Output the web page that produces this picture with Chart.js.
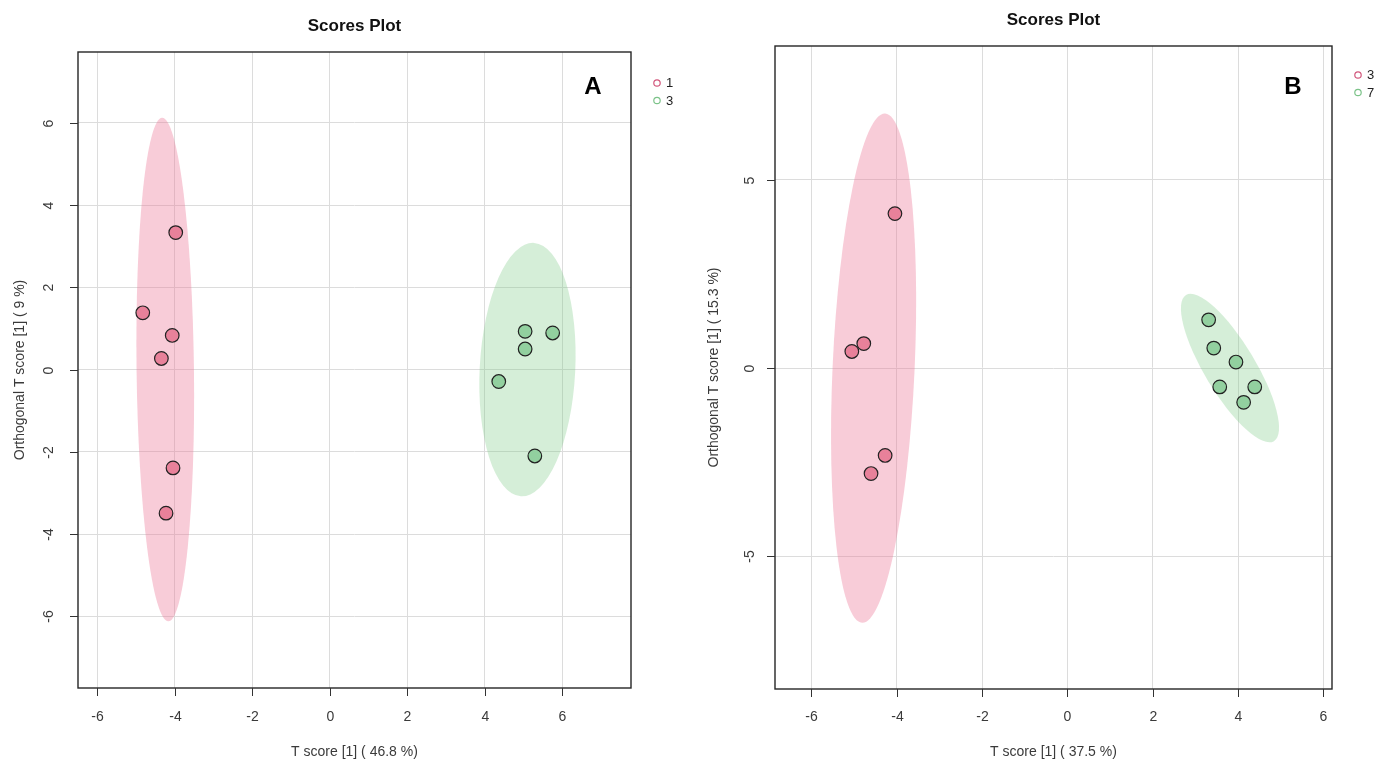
<!DOCTYPE html>
<html>
<head>
<meta charset="utf-8">
<title>Scores Plot</title>
<script src="https://cdn.jsdelivr.net/npm/chart.js@4.4.1/dist/chart.umd.min.js"></script>
<style>
  html, body { margin: 0; padding: 0; background: #fff; }
  #wrap { position: relative; width: 1381px; height: 760px; overflow: hidden; }
  canvas { position: absolute; top: 0; }
  #chartA { left: 0; }
  #chartB { left: 690px; }
</style>
</head>
<body>
<div id="wrap">
  <canvas id="chartA" width="690" height="760"></canvas>
  <canvas id="chartB" width="691" height="760"></canvas>
</div>
<script>
"use strict";
// tick values
const xTicksA = [-6, -4, -2, 0, 2, 4, 6];
const yTicksA = [-6, -4, -2, 0, 2, 4, 6];
const xTicksB = [-6, -4, -2, 0, 2, 4, 6];
const yTicksB = [-5, 0, 5];

// axis titles
const xTitleA = "T score [1] ( 46.8 %)";
const yTitleA = "Orthogonal T score [1] ( 9 %)";
const xTitleB = "T score [1] ( 37.5 %)";
const yTitleB = "Orthogonal T score [1] ( 15.3 %)";

// panel A, groups "1" and "3"
const groupsA = ["1", "3"];
const a1X = [-3.97, -4.82, -4.06, -4.34, -4.04, -4.22];
const a1Y = [3.33, 1.38, 0.83, 0.27, -2.39, -3.49];
const a3X = [5.04, 5.75, 5.04, 4.36, 5.29];
const a3Y = [0.93, 0.89, 0.50, -0.29, -2.10];

// panel B, groups "3" and "7"
const groupsB = ["3", "7"];
const b3X = [-4.04, -5.05, -4.77, -4.27, -4.60];
const b3Y = [4.10, 0.44, 0.65, -2.32, -2.80];
const b7X = [3.31, 3.43, 3.95, 3.57, 4.39, 4.13];
const b7Y = [1.28, 0.53, 0.16, -0.50, -0.50, -0.91];

// confidence ellipses: centre x, centre y, major half-axis (dx, dy), minor half-axis (dx, dy)
const ellipseA1 = [-4.24, 0, -0.08, 6.12, 0.74, 0.01];
const ellipseA3 = [5.10, 0, 0.17, 3.08, 1.23, -0.07];
const ellipseB3 = [-4.54, 0, 0.27, 6.76, 0.96, -0.05];
const ellipseB7 = [3.81, 0, -1.03, 1.94, 0.51, 0.35];

const RED = { point: "#e8819a", ring: "#d2577c", fill: "rgba(236,120,152,0.38)" };
const GREEN = { point: "#92d09f", ring: "#7cc389", fill: "rgba(120,200,130,0.31)" };
const FONT = "'Liberation Sans', Arial, sans-serif";

function toPoints(xs, ys) {
    return xs.map((x, i) => ({ x: x, y: ys[i] }));
}

function scoresPlugin(p) {
    return {
        id: "scores_" + p.letter,
        beforeDatasetsDraw(chart) {
            const ctx = chart.ctx;
            const xs = chart.scales.x, ys = chart.scales.y;
            const area = chart.chartArea;
            ctx.save();
            ctx.beginPath();
            ctx.rect(area.left, area.top, area.right - area.left, area.bottom - area.top);
            ctx.clip();
            p.ellipses.forEach((e, i) => {
                const cx = xs.getPixelForValue(e[0]);
                const cy = ys.getPixelForValue(e[1]);
                const ax = xs.getPixelForValue(e[0] + e[2]) - cx;
                const ay = ys.getPixelForValue(e[1] + e[3]) - cy;
                const bx = xs.getPixelForValue(e[0] + e[4]) - cx;
                const by = ys.getPixelForValue(e[1] + e[5]) - cy;
                ctx.save();
                ctx.transform(bx, by, ax, ay, cx, cy);
                ctx.beginPath();
                ctx.arc(0, 0, 1, 0, Math.PI * 2);
                ctx.restore();
                ctx.fillStyle = p.colors[i].fill;
                ctx.fill();
            });
            ctx.restore();
        },
        afterDraw(chart) {
            const ctx = chart.ctx;
            const xs = chart.scales.x, ys = chart.scales.y;
            const a = chart.chartArea;
            const L = p.layout;
            ctx.save();
            // box
            ctx.strokeStyle = "#262626";
            ctx.lineWidth = 1.4;
            ctx.strokeRect(a.left, a.top, a.right - a.left, a.bottom - a.top);
            // tick marks + labels
            ctx.lineWidth = 1;
            ctx.strokeStyle = "#333";
            ctx.fillStyle = "#3a3a3a";
            ctx.font = "14px " + FONT;
            ctx.textAlign = "center";
            ctx.textBaseline = "middle";
            p.xTicks.forEach(v => {
                const x = Math.round(xs.getPixelForValue(v)) + 0.5;
                ctx.beginPath();
                ctx.moveTo(x, a.bottom);
                ctx.lineTo(x, a.bottom + 8);
                ctx.stroke();
                ctx.fillText(String(v), x, a.bottom + L.xLabelOff);
            });
            p.yTicks.forEach(v => {
                const y = Math.round(ys.getPixelForValue(v)) + 0.5;
                ctx.beginPath();
                ctx.moveTo(a.left - 8, y);
                ctx.lineTo(a.left, y);
                ctx.stroke();
                ctx.save();
                ctx.translate(a.left - L.yLabelOff, y);
                ctx.rotate(-Math.PI / 2);
                ctx.fillText(String(v), 0, 0);
                ctx.restore();
            });
            // axis titles
            const midX = (a.left + a.right) / 2;
            const midY = (a.top + a.bottom) / 2;
            ctx.fillText(p.xTitle, midX, 752);
            ctx.save();
            ctx.translate(a.left - L.yTitleOff, midY);
            ctx.rotate(-Math.PI / 2);
            ctx.fillText(p.yTitle, 0, 0);
            ctx.restore();
            // main title
            ctx.fillStyle = "#111";
            ctx.font = "bold 17px " + FONT;
            ctx.fillText("Scores Plot", midX, L.titleY);
            // panel letter
            ctx.fillStyle = "#000";
            ctx.font = "bold 24px " + FONT;
            ctx.fillText(p.letter, L.letterX, 87);
            // legend
            ctx.font = "13px " + FONT;
            ctx.textAlign = "left";
            p.groups.forEach((g, i) => {
                const y = L.legendY + i * 17.5;
                ctx.beginPath();
                ctx.arc(L.legendX, y, 3.2, 0, Math.PI * 2);
                ctx.strokeStyle = p.colors[i].ring;
                ctx.lineWidth = 1.2;
                ctx.stroke();
                ctx.fillStyle = "#222";
                ctx.fillText(g, L.legendX + 9, y + 0.5);
            });
            ctx.restore();
        }
    };
}

function buildPanel(canvasId, p) {
    const canvas = document.getElementById(canvasId);
    const datasets = p.series.map((s, i) => ({
        label: p.groups[i],
        data: s,
        backgroundColor: p.colors[i].point,
        borderColor: "#222",
        borderWidth: 1.2,
        pointRadius: 6.8,
        pointHoverRadius: 6.8
    }));
    const axis = (min, max, ticks, horizontal) => ({
        type: "linear",
        min: min,
        max: max,
        afterBuildTicks: s => { s.ticks = ticks.map(v => ({ value: v })); },
        afterFit: s => { if (horizontal) s.height = 0; else s.width = 0; },
        ticks: { display: false },
        grid: { color: "#dcdcdc", lineWidth: 1, drawTicks: false },
        border: { display: false }
    });
    return new Chart(canvas.getContext("2d"), {
        type: "scatter",
        data: { datasets },
        options: {
            responsive: false,
            animation: false,
            layout: { padding: p.layout.padding },
            scales: {
                x: axis(p.xRange[0], p.xRange[1], p.xTicks, true),
                y: axis(p.yRange[0], p.yRange[1], p.yTicks, false)
            },
            plugins: {
                legend: { display: false },
                tooltip: { enabled: false },
                title: { display: false }
            }
        },
        plugins: [scoresPlugin(p)]
    });
}

buildPanel("chartA", {
    letter: "A",
    groups: groupsA,
    colors: [RED, GREEN],
    series: [toPoints(a1X, a1Y), toPoints(a3X, a3Y)],
    ellipses: [ellipseA1, ellipseA3],
    xTicks: xTicksA, yTicks: yTicksA,
    xRange: [-6.49, 7.77], yRange: [-7.74, 7.72],
    xTitle: xTitleA, yTitle: yTitleA,
    layout: {
        padding: { left: 78, right: 59, top: 52, bottom: 72 },
        xLabelOff: 29, yLabelOff: 29, yTitleOff: 58,
        titleY: 26, letterX: 593, legendX: 657, legendY: 83
    }
});

buildPanel("chartB", {
    letter: "B",
    groups: groupsB,
    colors: [RED, GREEN],
    series: [toPoints(b3X, b3Y), toPoints(b7X, b7Y)],
    ellipses: [ellipseB3, ellipseB7],
    xTicks: xTicksB, yTicks: yTicksB,
    xRange: [-6.85, 6.20], yRange: [-8.52, 8.55],
    xTitle: xTitleB, yTitle: yTitleB,
    layout: {
        padding: { left: 85, right: 49, top: 46, bottom: 71 },
        xLabelOff: 28, yLabelOff: 25, yTitleOff: 61,
        titleY: 20, letterX: 603, legendX: 668, legendY: 75
    }
});
</script>
</body>
</html>
